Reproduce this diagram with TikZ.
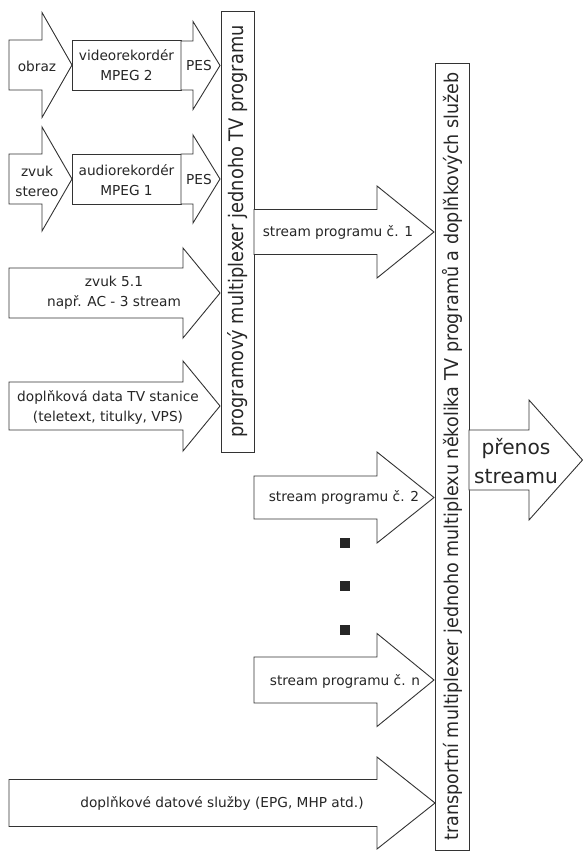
\documentclass[tikz,border=0pt]{standalone}
\usepackage{fontspec}
\setmainfont{DejaVu Sans}
\usepackage{graphicx}

% blokova sipka: zacatek, zacatek hrotu, spicka, stred, pul drik, pul hrot
\newcommand{\sipka}[6]{%
  \draw[fill=white] (#1,#4-#5) -- (#2,#4-#5) -- (#2,#4-#6) -- (#3,#4)
    -- (#2,#4+#6) -- (#2,#4+#5) -- (#1,#4+#5) -- cycle;}

\tikzset{
  popis/.style={font=\fontsize{13.7}{20}\selectfont, align=center, inner sep=0pt, text=black!85},
  mux/.style={draw, rotate=90, inner sep=0pt, text=black!85},
  tecka/.style={fill=black!85, minimum size=10pt, inner sep=0pt},
}

\begin{document}
\begin{tikzpicture}[x=1pt, y=-1pt, line width=0.9pt, color=black!80]
	\useasboundingbox (0,0) rectangle (583,851);

	% Multiplexery
	\node[mux, minimum width=441, minimum height=33] (pmux) at (237.5,231.5)
		{\resizebox{412pt}{\height}{\fontsize{20}{24}\selectfont programový multiplexer jednoho TV programu}};
	\node[mux, minimum width=787, minimum height=34] (tmux) at (452,456.5)
		{\resizebox{768pt}{\height}{\fontsize{19}{24}\selectfont transportní multiplexer jednoho multiplexu několika TV programů a doplňkových služeb}};

	% Obraz
	\sipka{9}{42}{72}{65}{25}{52.5}
	\node[popis] (obraz) at (37,66) {obraz};
	\draw[fill=white] (72,40) rectangle (181,90);					% videorekordér
	\node[popis] (video) at (126.5,65) {videorekordér\\MPEG 2};
	\sipka{181}{193}{220}{65.5}{24.5}{44}
	\node[popis] (pes1) at (199,66) {PES};

	% Zvuk stereo
	\sipka{9}{42}{72}{179}{25}{52}
	\node[popis] (zvuk) at (37,181) {zvuk\\stereo};
	\draw[fill=white] (72,154) rectangle (181,204);				% audiorekordér
	\node[popis] (audio) at (126.5,180) {audiorekordér\\MPEG 1};
	\sipka{181}{193}{220}{179}{25}{44}
	\node[popis] (pes2) at (199,180) {PES};

	% Dalsi vstupy
	\sipka{9}{183}{220}{293}{25}{45}
	\node[popis] (ac3) at (114,293) {zvuk 5.1\\např. AC - 3 stream};
	\sipka{9}{183}{220}{406}{24}{45}
	\node[popis] (data) at (108,407) {doplňková data TV stanice\\(teletext, titulky, VPS)};

	% Streamy programu
	\sipka{254}{377}{434}{232}{22.5}{46}
	\node[popis] (str1) at (338,232) {stream programu č. 1};
	\sipka{254}{377}{434}{497.5}{21.5}{45.5}
	\node[popis] (str2) at (344,497) {stream programu č. 2};
	\node[tecka] (t1) at (345,543) {};
	\node[tecka] (t2) at (345,586) {};
	\node[tecka] (t3) at (345,630) {};
	\sipka{254}{377}{434}{680}{23}{46.5}
	\node[popis] (strn) at (345,681) {stream programu č. n};
	\sipka{9}{377}{435}{803}{23.5}{46}
	\node[popis] (sluzby) at (222,803) {doplňkové datové služby (EPG, MHP atd.)};

	% Vystup
	\sipka{469}{529}{582.5}{460}{30}{60}
	\node[popis, font=\fontsize{20.2}{29}\selectfont] (prenos) at (516,461) {přenos\\streamu};
\end{tikzpicture}
\end{document}
